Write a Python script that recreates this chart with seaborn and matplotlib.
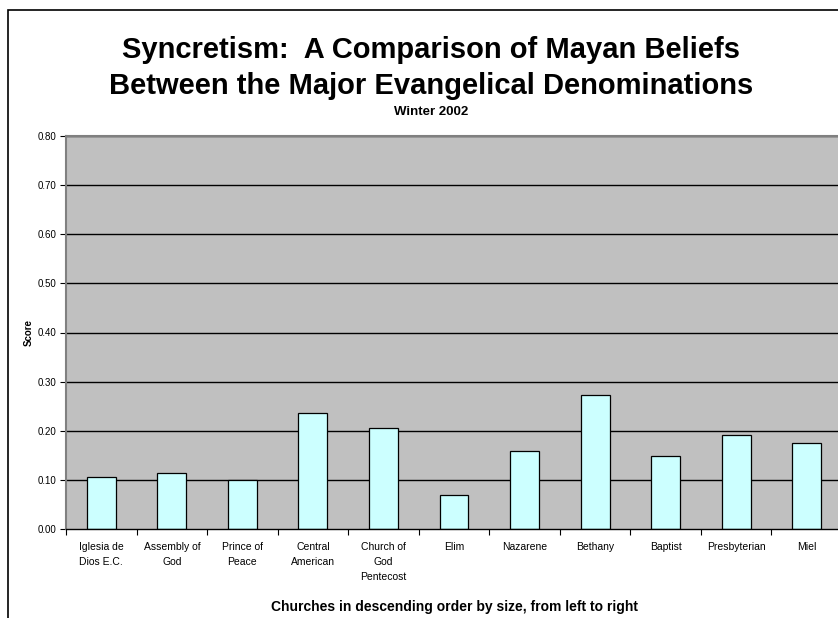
import matplotlib
matplotlib.use('Agg')
import matplotlib.pyplot as plt
import matplotlib.patches as patches
import seaborn as sns
import pandas as pd

# data
churches = ['Iglesia de\nDios E.C.', 'Assembly of\nGod', 'Prince of\nPeace', 'Central\nAmerican',
            'Church of\nGod\nPentecost', 'Elim', 'Nazarene', 'Bethany', 'Baptist',
            'Presbyterian', 'Miel']
scores = [0.105, 0.113, 0.099, 0.236, 0.205, 0.069, 0.158, 0.272, 0.149, 0.192, 0.175]
yticks = [0.0, 0.1, 0.2, 0.3, 0.4, 0.5, 0.6, 0.7, 0.8]

df = pd.DataFrame({'Church': churches, 'Score': scores})

sns.set_style('white')
plt.rcParams['font.family'] = ['Liberation Sans', 'DejaVu Sans']
plt.rcParams['text.color'] = 'black'
plt.rcParams['axes.labelcolor'] = 'black'
plt.rcParams['xtick.color'] = 'black'
plt.rcParams['ytick.color'] = 'black'

fig = plt.figure(figsize=(8.38, 6.18), dpi=100)
ax = fig.add_axes([66 / 838, 89 / 618, 776 / 838, 393 / 618])
ax.set_facecolor('#C0C0C0')

for y in yticks[1:]:
    ax.axhline(y, color='black', linewidth=1.0, zorder=0.5)

sns.barplot(data=df, x='Church', y='Score', color='#CCFFFF', edgecolor='black',
            linewidth=0.9, width=0.41, saturation=1, ax=ax, zorder=2)

ax.set_xlim(-0.5, len(churches) - 0.5)
ax.set_ylim(0, 0.8)
ax.set_yticks(yticks)
ax.set_yticklabels([f'{v:.2f}' for v in yticks], fontsize=7)
ax.set_xticks(range(len(churches)))
ax.set_xticklabels(churches, fontsize=7.5, linespacing=1.65)
ax.set_xticks([i - 0.5 for i in range(len(churches) + 1)], minor=True)
ax.tick_params(axis='x', which='major', length=0, pad=9)
ax.tick_params(axis='x', which='minor', length=4, width=0.8, direction='out', bottom=True)
ax.tick_params(axis='y', length=4, width=0.8, direction='out', left=True, pad=3)

for side in ['top', 'left']:
    ax.spines[side].set_color('#808080')
    ax.spines[side].set_linewidth(1.5)
ax.spines['bottom'].set_color('black')
ax.spines['bottom'].set_linewidth(1.0)
ax.spines['right'].set_visible(False)

ax.set_ylabel('Score', fontsize=7, fontweight='bold', labelpad=3)
ax.set_xlabel('Churches in descending order by size, from left to right', fontsize=10,
              fontweight='bold', labelpad=13)

fig.text(431 / 838, 1 - 68 / 618, 'Syncretism:  A Comparison of Mayan Beliefs\nBetween the Major Evangelical Denominations',
         ha='center', va='center', fontsize=21, fontweight='bold', linespacing=1.35)
fig.text(431 / 838, 1 - 112 / 618, 'Winter 2002', ha='center', va='center', fontsize=9.5,
         fontweight='bold')

# outer chart border, cut off at right and bottom like the reference
border = patches.Rectangle((8 / 838, -0.1), 1.2, 1 - 10 / 618 + 0.1, transform=fig.transFigure,
                           fill=False, edgecolor='black', linewidth=1.2, clip_on=False)
fig.patches.append(border)

fig.savefig('out.png', dpi=100)
